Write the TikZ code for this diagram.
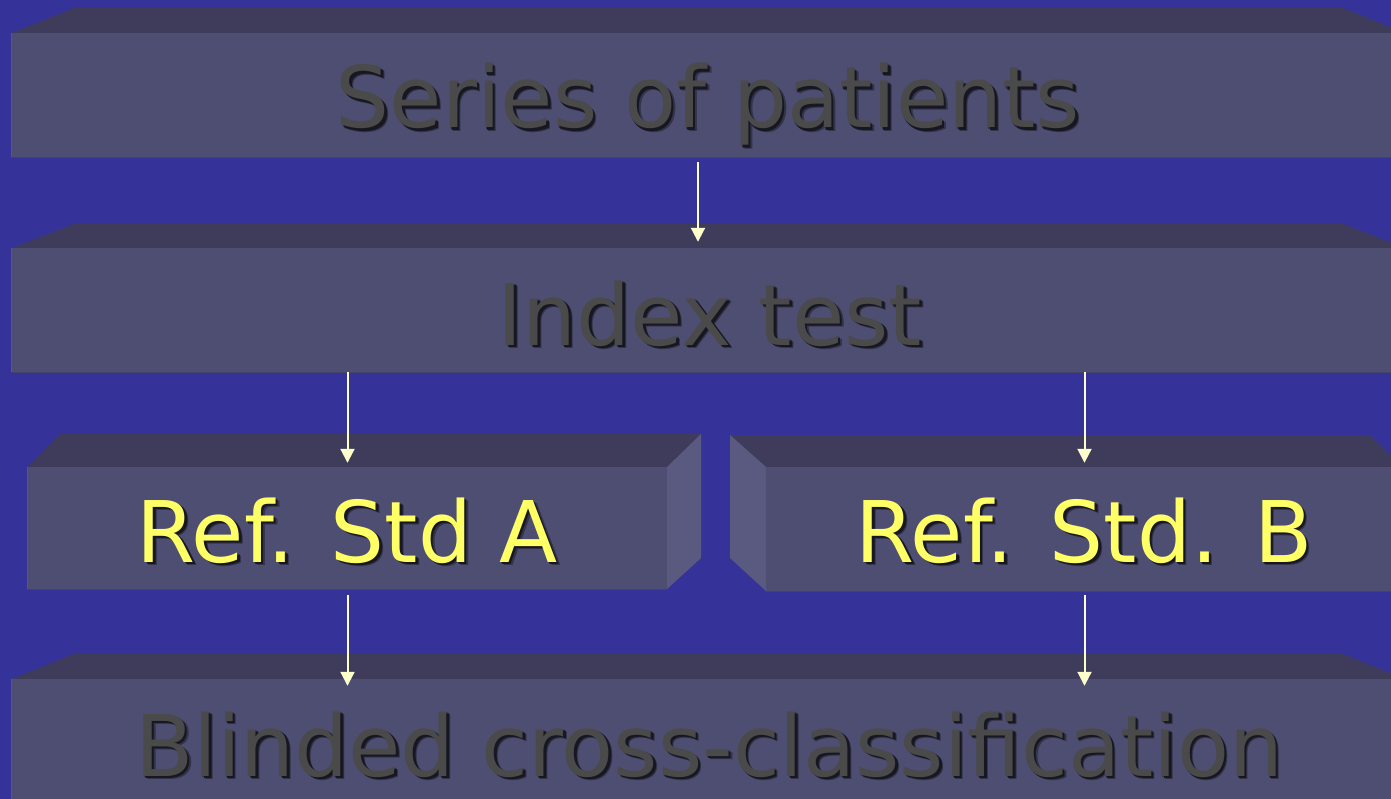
\documentclass[tikz,border=0pt]{standalone}
\usepackage{fontspec}
\setmainfont{DejaVu Sans}
\usetikzlibrary{arrows.meta}
\definecolor{bgblue}{HTML}{353399}
\definecolor{frontc}{HTML}{4E4E72}
\definecolor{topc}{HTML}{3E3C5A}
\definecolor{sidec}{HTML}{5A5A80}
\definecolor{edgedark}{HTML}{44446A}
\definecolor{edgelight}{HTML}{585880}
\definecolor{labgray}{HTML}{4A4A4A}
\definecolor{labyellow}{HTML}{FFFF66}
\definecolor{arrowc}{HTML}{FFFFCC}
\colorlet{shadowsoft}{black!35!frontc}
\colorlet{shadowcore}{black!70!frontc}
\tikzset{
  face/.style={fill=frontc, draw=none, inner sep=0pt, rectangle},
  topface/.style={fill=topc, draw=none},
  sideface/.style={fill=sidec, draw=none},
  lbl/.style={font=\fontsize{85}{100}\selectfont, anchor=base, inner sep=0pt},
  arr/.style={draw=arrowc, line width=2pt, -{Triangle[width=14pt,length=14pt]}},
}
% one shadow layer: #1 offset, #2 colour, #3 text
\newcommand\shadowlayer[3]{%
  \makebox[0pt][l]{\hspace{#1}\raisebox{-#1}{\color{#2}#3}}}
% text with a soft drop shadow set beneath it, down and to the right
\newcommand\withshadow[1]{%
  \shadowlayer{3.8pt}{shadowsoft}{#1}%
  \shadowlayer{1.4pt}{shadowsoft}{#1}%
  \shadowlayer{2.6pt}{shadowcore}{#1}#1}
\begin{document}
\begin{tikzpicture}[x=1pt,y=-1pt]
\useasboundingbox (0,0) rectangle (1391,799);
\clip (0,0) rectangle (1391,799);
\fill[bgblue] (0,0) rectangle (1391,799);

% row 1
\fill[topface] (12,33) -- (74,8) -- (1343,8) -- (1405,33) -- cycle;
\node[face, minimum width=1393pt, minimum height=124pt] (series) at (708.5,95) {};
% row 2
\fill[topface] (12,248) -- (74,224) -- (1343,224) -- (1405,248) -- cycle;
\node[face, minimum width=1393pt, minimum height=124pt] (index) at (708.5,310) {};
% row 3, left block
\fill[topface] (28,467) -- (60,434) -- (701,434) -- (667,467) -- cycle;
\fill[sideface] (667,467) -- (701,434) -- (701,558) -- (667,589) -- cycle;
\node[face, minimum width=639pt, minimum height=122pt] (refa) at (347.5,528) {};
% row 3, right block
\fill[topface] (766,467) -- (730,435) -- (1370,435) -- (1403,467) -- cycle;
\fill[sideface] (730,435) -- (766,467) -- (766,591) -- (730,558) -- cycle;
\node[face, minimum width=637pt, minimum height=124pt] (refb) at (1084.5,529) {};
% row 4
\fill[topface] (12,679) -- (74,654) -- (1343,654) -- (1405,679) -- cycle;
\node[face, minimum width=1393pt, minimum height=141pt] (blind) at (708.5,749.5) {};

% thin edges on the front faces
\foreach \n in {series,index,refa,refb,blind}{
  \draw[edgedark, line width=1pt] (\n.south west) -- (\n.south east);
  \draw[edgelight, line width=1pt] (\n.south west) -- (\n.north west);
}

% labels
\node[lbl, text=labgray] (seriestxt) at (708,128) {\withshadow{Series of patients}};
\node[lbl, text=labgray] (indextxt) at (710,345) {\withshadow{Index test}};
\node[lbl, text=labyellow] (refatxt) at (347,562) {\withshadow{Ref. Std A}};
\node[lbl, text=labyellow] (refbtxt) at (1084,562) {\withshadow{Ref. Std. B}};
\node[lbl, text=labgray] (blindtxt) at (709,776) {\withshadow{Blinded cross-classification}};

% connectors
\coordinate (mid) at (698,0);
\draw[arr, shorten <=5pt, shorten >=6pt] (series.south -| mid) -- (index.north -| mid);
\draw[arr, shorten >=4pt] (index.south -| refa) -- (refa.north);
\draw[arr, shorten >=4pt] (index.south -| refb) -- (refb.north);
\draw[arr, shorten <=6pt, shorten >=-7pt] (refa.south) -- (blind.north -| refa);
\draw[arr, shorten <=4pt, shorten >=-7pt] (refb.south) -- (blind.north -| refb);
\end{tikzpicture}
\end{document}
